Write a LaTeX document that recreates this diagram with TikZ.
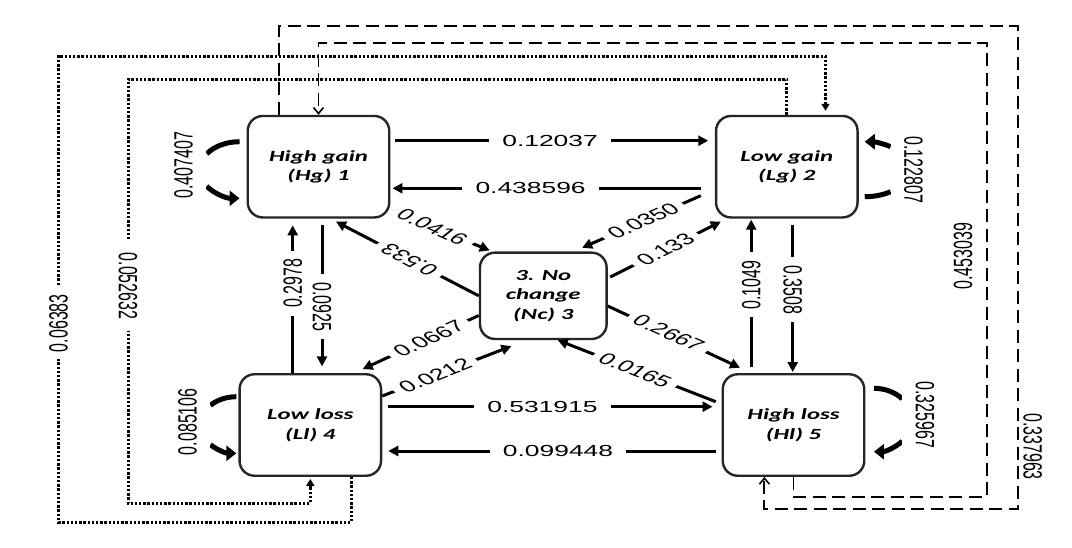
\documentclass[tikz,border=0pt]{standalone}
\usepackage{fontspec}
\setmainfont{Liberation Sans}
\newfontfamily\boxfont[FakeStretch=1.6]{Carlito}
\usetikzlibrary{arrows.meta}

\begin{document}
\begin{tikzpicture}[x=1pt, y=-1pt,
  state/.style={draw=black!85, line width=2.4pt, rounded corners=15pt,
    minimum width=141.5pt, minimum height=101.5pt, inner sep=0pt, align=center,
    font=\fontsize{15.5}{19.5}\selectfont\boxfont\bfseries\itshape},
  flow/.style={line width=3pt, -{Triangle[length=10pt,width=10pt]}},
  loopcap/.style={line width=5pt},
  selfloop/.style={line width=5pt, -{Triangle[length=10pt,width=15pt]}},
  dotline/.style={line width=3pt, dash pattern=on 2.4pt off 1.8pt,
    -{Triangle[length=7pt,width=8pt]}},
  dashline/.style={line width=1.9pt, dash pattern=on 13pt off 6.5pt,
    -{Straight Barb[length=6pt,width=10pt,line width=1.6pt]}},
  num/.style={font=\fontsize{16}{19}\selectfont, xscale=1.65, fill=white,
    inner xsep=#1, inner ysep=2pt},
  num/.default=6pt,
  slant/.style={num=5pt, inner ysep=1pt},
  plain/.style={fill=none}
]
\fill[white] (0,0) rectangle (1072,547);
\useasboundingbox (0,0) rectangle (1072,547);

% states
\node[state] (hg) at (318.5,166.7) {High gain\\(Hg) 1};
\node[state] (lg) at (786.8,166.7) {Low gain\\(Lg) 2};
\node[state, minimum width=126.7pt, minimum height=86.3pt] (nc) at (543.3,295.8) {3. No\\change\\(Nc) 3};
\node[state] (ll) at (310.3,425) {Low loss\\(Ll) 4};
\node[state] (hl) at (793.5,425) {High loss\\(Hl) 5};

% outer dotted transitions
\draw[dotline, shorten >=2pt] (lg.north) |- (128,79)
  -- node[num=12pt, rotate=-90, pos=0.488]{0.052632} (128,503.3) -| (ll.south);
\draw[dotline, shorten >=4pt] ([xshift=41pt]ll.south) |- (58.5,522.3)
  -- node[num=7pt, rotate=90, pos=0.427]{0.06383} (58.5,56) -| ([xshift=38.7pt]lg.north);

% outer dashed transitions
\draw[dashline] ([xshift=-39.5pt]hg.north) |- (1017.7,26)
  -- node[xshift=15pt, num, plain, rotate=-90, pos=0.87]{0.337963} (1017.7,509.3)
  -| ([xshift=-29.1pt]hl.south);
\draw[dashline] (hl.south) |- (986.7,496.7)
  -- node[xshift=-23.7pt, num, plain, rotate=90, pos=0.53]{0.453039} (986.7,43)
  -| (hg.north);

% horizontal transitions
\draw[flow, shorten <=5pt, shorten >=6.6pt] ([yshift=26pt]hg.east)
  -- node[num=8pt, pos=0.492]{0.12037} ([yshift=26pt]lg.west);
\draw[flow, shorten <=13.5pt, shorten >=2pt] ([yshift=-21.6pt]lg.west)
  -- node[num=8pt, pos=0.568]{0.438596} ([yshift=-21.6pt]hg.east);
\draw[flow, shorten <=6pt, shorten >=9pt] ([yshift=18.3pt]ll.east)
  -- node[num=8pt, pos=0.472]{0.531915} ([yshift=18.3pt]hl.west);
\draw[flow, shorten <=6pt, shorten >=6pt] ([yshift=-26pt]hl.west)
  -- node[num=8pt, pos=0.482]{0.099448} ([yshift=-26pt]ll.east);

% vertical transitions
\draw[flow, shorten >=6.7pt] ([xshift=-17.6pt]ll.north)
  -- node[num=8pt, rotate=90, pos=0.58]{0.2978} ([xshift=-25.8pt]hg.south);
\draw[flow, shorten <=6.7pt, shorten >=6.7pt] ([xshift=3.5pt]hg.south)
  -- node[num=8pt, rotate=-90, pos=0.57]{0.0925} ([xshift=11.7pt]ll.north);
\draw[flow, shorten <=6pt, shorten >=1pt] ([xshift=-42.3pt]hl.north)
  -- node[num=8pt, rotate=90, pos=0.571]{0.1049} ([xshift=-35.6pt]lg.south);
\draw[flow, shorten <=6.7pt, shorten >=1pt] ([xshift=5.9pt]lg.south)
  -- node[num=8pt, rotate=-90, pos=0.46]{0.3508} ([xshift=-0.8pt]hl.north);

% diagonal transitions through "no change"
\draw[flow] ([shift={(2,-7.6)}]hg.south east)
  -- node[slant, rotate=-37, pos=0.41]{0.0416} ([shift={(11,-1)}]nc.north west);
\draw[flow] (nc.west)
  -- node[slant, rotate=138.6, pos=0.486]{0.533} ([shift={(17.5,3)}]hg.south);
\draw[flow] ([shift={(-14,-23)}]lg.south west)
  -- node[slant, rotate=36, pos=0.485]{0.0350} ([shift={(-25.7,-3.7)}]nc.north east);
\draw[flow] ([shift={(2.3,-18.8)}]nc.east)
  -- node[slant, rotate=39.5, pos=0.5]{0.133} ([shift={(6,3)}]lg.south west);
\draw[flow] ([yshift=-10.2pt]nc.east)
  -- node[yshift=1.5pt, slant, rotate=-36, pos=0.46]{0.2667} ([shift={(18.5,-5.3)}]hl.north west);
\draw[flow] ([shift={(-5.8,-23.3)}]hl.west)
  -- node[slant, rotate=-33, pos=0.51]{0.0165} ([xshift=14.4pt]nc.south);
\draw[flow] ([yshift=-19.7pt]nc.west)
  -- node[slant, rotate=36, pos=0.43]{0.0667} ([shift={(-19.6,-4)}]ll.north east);
\draw[flow] ([yshift=29pt]ll.east)
  -- node[slant, rotate=33, pos=0.41]{0.0212} ([shift={(-31.9,6)}]nc.south);

% self transitions: a curved arrow whose middle sits behind its label
\draw[loopcap] ([shift={(-7,-25)}]hg.west)
  arc[start angle=90, end angle=145, x radius=40pt, y radius=28.3pt];
\draw[selfloop] ([shift={(-39.77,19.53)}]hg.west)
  arc[start angle=215, end angle=270, x radius=40pt, y radius=28.3pt];
\node[num=4pt, inner ysep=8pt, rotate=90] (hgself) at ([shift={(-63,-1.7)}]hg.west) {0.407407};

\draw[loopcap] ([shift={(-2,-28.3)}]ll.west)
  arc[start angle=90, end angle=136, x radius=36pt, y radius=28.3pt];
\draw[selfloop] ([shift={(-27.9,19.66)}]ll.west)
  arc[start angle=224, end angle=270, x radius=36pt, y radius=28.3pt];
\node[num=4pt, inner ysep=8pt, rotate=90] (llself) at ([shift={(-50.8,-3.3)}]ll.west) {0.085106};

\draw[loopcap] ([shift={(6,30)}]lg.east)
  arc[start angle=-90, end angle=-55, x radius=45pt, y radius=27.5pt];
\draw[selfloop] ([shift={(31.81,-20.03)}]lg.east)
  arc[start angle=55, end angle=90, x radius=45pt, y radius=27.5pt];
\node[num=4pt, inner ysep=8pt, rotate=-90] (lgself) at ([shift={(54.8,3.3)}]lg.east) {0.122807};

\draw[loopcap] ([shift={(8.5,-36.7)}]hl.east)
  arc[start angle=90, end angle=42, x radius=38pt, y radius=31.7pt];
\draw[selfloop] ([shift={(36.74,16.21)}]hl.east)
  arc[start angle=-42, end angle=-90, x radius=38pt, y radius=31.7pt];
\node[num=4pt, inner ysep=8pt, rotate=-90] (hlself) at ([shift={(59.4,-10)}]hl.east) {0.325967};
\end{tikzpicture}
\end{document}
